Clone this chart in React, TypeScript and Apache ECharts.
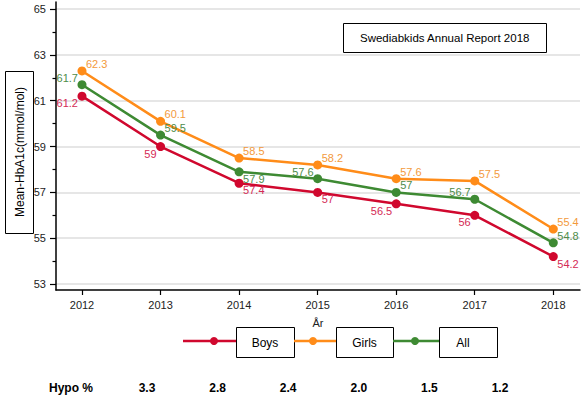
import React, { useEffect, useRef } from 'react';
import * as echarts from 'echarts';

const years = [2012, 2013, 2014, 2015, 2016, 2017, 2018];
const boys = [61.2, 59, 57.4, 57, 56.5, 56, 54.2];
const girls = [62.3, 60.1, 58.5, 58.2, 57.6, 57.5, 55.4];
const all = [61.7, 59.5, 57.9, 57.6, 57, 56.7, 54.8];
const yMajorTicks = [53, 55, 57, 59, 61, 63, 65];
const yMinorTicks = [54, 56, 58, 60, 62, 64];
const seriesNames = ['Boys', 'Girls', 'All'];
const hypoLabel = 'Hypo %';
const hypoValues = ['3.3', '2.8', '2.4', '2.0', '1.5', '1.2'];
const titleText = 'Swediabkids Annual Report 2018';
const yAxisTitle = 'Mean-HbA1c(mmol/mol)';
const xAxisTitle = 'År';

// label placement codes (style only): l/r = left/right of point, t/b = above/below
const boysLabelPos = ['lb', 'lb', 'rb', 'rb', 'lb', 'lb', 'rb'];
const girlsLabelPos = ['rt', 'rt', 'rt', 'rt', 'rt', 'rt', 'rt'];
const allLabelPos = ['lt', 'rt', 'rb', 'lt', 'rt', 'lt', 'rt'];

const lineColors = ['#d0082e', '#ff8c19', '#3e8a33'];
const labelColors = ['#d42a55', '#f39a3c', '#4e8c4a'];
const FONT = 'Arial, "Liberation Sans", sans-serif';

// legend layout (decoration)
const legendLayout = [
  { l0: 183, l1: 236, dot: 214, b0: 236, b1: 294 },
  { l0: 294, l1: 336, dot: 313, b0: 336, b1: 393 },
  { l0: 393, l1: 439, dot: 415, b0: 439, b1: 497 },
];

function place(p: string) {
  const left = p[0] === 'l';
  const top = p[1] === 't';
  return {
    position: 'inside',
    align: left ? 'right' : 'left',
    verticalAlign: 'middle',
    offset: [left ? -4 : 4, top ? -7 : 7],
  };
}

function makeSeries(name: string, vals: number[], pos: string[], idx: number) {
  return {
    name,
    type: 'line',
    symbol: 'circle',
    symbolSize: 9,
    lineStyle: { width: 2.5, color: lineColors[idx] },
    itemStyle: { color: lineColors[idx] },
    label: {
      show: true,
      color: labelColors[idx],
      fontSize: 11,
      fontFamily: FONT,
      formatter: (p: any) => String(p.value[1]),
    },
    data: years.map((y, i) => ({ value: [y, vals[i]], label: place(pos[i]) })),
    z: 3 + idx,
  };
}

export default function App() {
  const ref = useRef<HTMLDivElement>(null);
  useEffect(() => {
    if (!ref.current) return;
    const chart = echarts.init(ref.current, null, { renderer: 'svg' });

    const legendGraphics: any[] = [];
    legendLayout.forEach((L, i) => {
      legendGraphics.push({
        type: 'line',
        shape: { x1: L.l0, y1: 341, x2: L.l1, y2: 341 },
        style: { stroke: lineColors[i], lineWidth: 2.5 },
      });
      legendGraphics.push({
        type: 'circle',
        shape: { cx: L.dot, cy: 341, r: 4 },
        style: { fill: lineColors[i] },
      });
      legendGraphics.push({
        type: 'rect',
        shape: { x: L.b0 + 0.5, y: 327.5, width: L.b1 - L.b0, height: 30 },
        style: { fill: '#fff', stroke: '#000', lineWidth: 1 },
      });
      legendGraphics.push({
        type: 'text',
        x: (L.b0 + L.b1) / 2 + (i === 2 ? -5 : 0),
        y: 343,
        style: {
          text: seriesNames[i],
          fontSize: 12,
          fontFamily: FONT,
          fill: '#000',
          align: 'center',
          verticalAlign: 'middle',
        },
      });
    });

    const hypoGraphics: any[] = [
      {
        type: 'text',
        x: 71,
        y: 388,
        style: { text: hypoLabel, fontSize: 12, fontWeight: 'bold', fontFamily: FONT, fill: '#000', align: 'center', verticalAlign: 'middle' },
      },
      ...hypoValues.map((v, i) => ({
        type: 'text',
        x: 147 + i * 70.6,
        y: 388,
        style: { text: v, fontSize: 12, fontWeight: 'bold', fontFamily: FONT, fill: '#000', align: 'center', verticalAlign: 'middle' },
      })),
    ];

    const yTitleGraphics: any[] = [
      {
        type: 'rect',
        shape: { x: 5.5, y: 71.5, width: 28, height: 162 },
        style: { fill: '#fff', stroke: '#000', lineWidth: 1 },
      },
      {
        type: 'text',
        x: 19.5,
        y: 152,
        rotation: Math.PI / 2,
        style: { text: yAxisTitle, fontSize: 12, fontFamily: FONT, fill: '#000', align: 'center', verticalAlign: 'middle' },
      },
    ];

    chart.setOption({
      animation: false,
      backgroundColor: '#fff',
      textStyle: { fontFamily: FONT },
      title: {
        text: titleText,
        left: 343,
        top: 23,
        padding: [9, 17],
        borderColor: '#000',
        borderWidth: 1,
        textStyle: { fontSize: 11.5, fontWeight: 'normal', color: '#000', fontFamily: FONT },
      },
      grid: { left: 56, right: 5, top: 2, bottom: 109, containLabel: false },
      xAxis: {
        type: 'value',
        min: 2011.669,
        max: 2018.34,
        name: xAxisTitle,
        nameLocation: 'middle',
        nameGap: 27,
        nameTextStyle: { fontSize: 11, color: '#222', fontFamily: FONT },
        axisLine: { onZero: false, lineStyle: { color: '#000', width: 1.5 } },
        axisTick: { customValues: years, length: 5, lineStyle: { color: '#000', width: 1.2 } },
        axisLabel: { customValues: years, formatter: (v: number) => String(v), fontSize: 11, color: '#222', margin: 9 },
        splitLine: { show: false },
      },
      yAxis: [
        {
          type: 'value',
          min: 52.74,
          max: 65.31,
          position: 'left',
          axisLine: { show: true, lineStyle: { color: '#000', width: 1.5 } },
          axisTick: { customValues: yMajorTicks, length: 6, lineStyle: { color: '#000', width: 1.2 } },
          axisLabel: { customValues: yMajorTicks, fontSize: 11, color: '#222', margin: 10 },
          splitLine: { show: true, lineStyle: { color: '#dedede', width: 1.5 } },
        },
        {
          type: 'value',
          min: 52.74,
          max: 65.31,
          position: 'left',
          offset: 0,
          axisLine: { show: false },
          axisTick: { show: true, customValues: yMinorTicks, length: 3.5, lineStyle: { color: '#000', width: 1.2 } },
          axisLabel: { show: false },
          splitLine: { show: false },
        },
      ],
      series: [
        makeSeries(seriesNames[0], boys, boysLabelPos, 0),
        makeSeries(seriesNames[1], girls, girlsLabelPos, 1),
        makeSeries(seriesNames[2], all, allLabelPos, 2),
      ],
      graphic: [...yTitleGraphics, ...legendGraphics, ...hypoGraphics],
    });
    return () => chart.dispose();
  }, []);
  return <div ref={ref} style={{ position: 'absolute', left: 0, top: 0, width: 585, height: 399 }} />;
}
